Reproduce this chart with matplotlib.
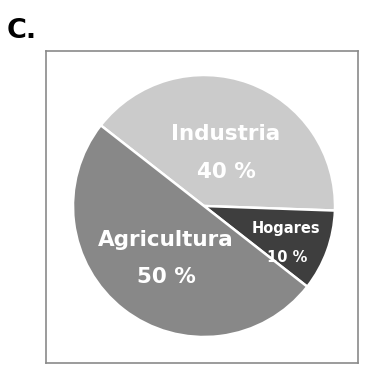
import matplotlib
matplotlib.use("Agg")
import matplotlib.pyplot as plt

# data
categories = ["Industria", "Hogares", "Agricultura"]
shares = [40, 10, 50]
colours = ["#cbcbcb", "#3e3e3e", "#888888"]

plt.rcParams['font.family'] = ['DejaVu Sans']

fig = plt.figure(figsize=(3.74, 3.82), dpi=100)
# framed box, in pixel-like coords (y up)
ax = fig.add_axes([46/374, 19/382, 312/374, 312/382])

ax.pie(shares, colors=colours, startangle=142, counterclock=False,
       center=(204, 176), radius=131, frame=True,
       wedgeprops=dict(edgecolor="white", linewidth=1.8))
ax.set_xlim(46, 358)
ax.set_ylim(19, 331)
ax.set_aspect("equal")
ax.set_xticks([])
ax.set_yticks([])
for s in ax.spines.values():
    s.set_color("#8a8a8a")
    s.set_linewidth(1.2)

# labels (name + percent)
label_pos = {"Industria": ((226, 248), (226, 210), 15.5),
             "Hogares": ((286, 153), (287, 125), 10.5),
             "Agricultura": ((166, 142), (166, 105), 15.5)}
for name, val in zip(categories, shares):
    (x1, y1), (x2, y2), fs = label_pos[name]
    ax.text(x1, y1, name, color="white", fontsize=fs, fontweight="bold",
            ha="center", va="center")
    ax.text(x2, y2, f"{val} %", color="white", fontsize=fs, fontweight="bold",
            ha="center", va="center")

fig.text(7/374, 1 - 37.5/382, "C.", fontsize=19.5, fontweight="bold",
         ha="left", va="baseline", color="black")

fig.savefig("out.png", dpi=100)
